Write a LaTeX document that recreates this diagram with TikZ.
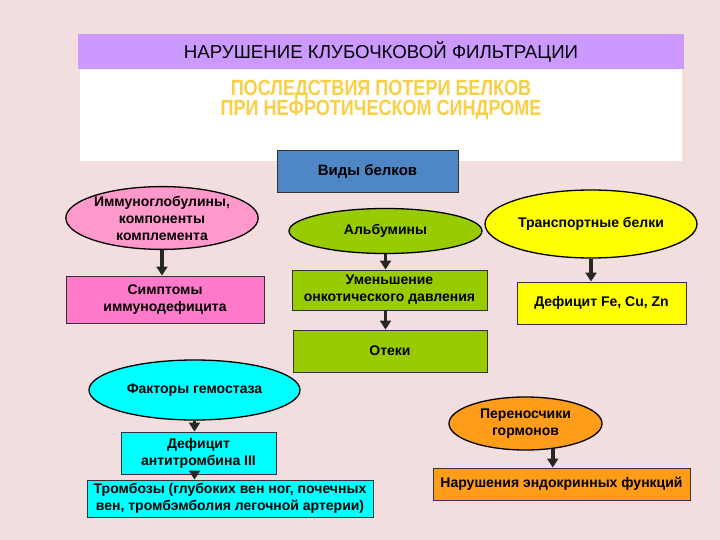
\documentclass[tikz,border=0pt]{standalone}
\usepackage{fontspec}
\setmainfont{Liberation Sans}
\usetikzlibrary{shapes.geometric,arrows.meta}
\definecolor{bg}{HTML}{F2DEDE}
\definecolor{hdr}{HTML}{CC99FF}
\definecolor{ttl}{HTML}{F8CF45}
\definecolor{blu}{HTML}{4F86C6}
\definecolor{pinkl}{HTML}{FF99CC}
\definecolor{pinkd}{HTML}{FF7ACB}
\definecolor{grn}{HTML}{99CC00}
\definecolor{yel}{HTML}{FFFF00}
\definecolor{cyn}{HTML}{00FFFF}
\definecolor{org}{HTML}{FF9C1A}
\tikzset{
  txt/.style={font=\fontsize{14}{17}\selectfont\bfseries, align=center, text=black},
  ell/.style={ellipse, draw=black, line width=1.3pt, inner sep=0pt, txt},
  boxn/.style={rectangle, draw=black!80, line width=0.9pt, inner sep=0pt, txt},
  arr/.style={-{Triangle[length=9pt,width=11pt]}, line width=3.6pt, draw=black!85},
}
\begin{document}
\begin{tikzpicture}[x=1pt,y=-1pt]
\fill[bg] (0,0) rectangle (720,540);
\useasboundingbox (0,0) rectangle (720,540);
% header and panel
\node[rectangle, fill=white, minimum width=602, minimum height=92, inner sep=0pt] (panel) at (381,115) {};
\node[rectangle, fill=hdr, minimum width=606, minimum height=35, inner sep=0pt, font=\fontsize{18.7}{20}\selectfont, text=black] (hdr) at (381,51.5) {НАРУШЕНИЕ КЛУБОЧКОВОЙ ФИЛЬТРАЦИИ};
\node[font=\fontsize{22}{20}\selectfont\bfseries, text=ttl, align=center, xscale=0.82, transform shape] (ttl) at (381,100) {ПОСЛЕДСТВИЯ ПОТЕРИ БЕЛКОВ\\ПРИ НЕФРОТИЧЕСКОМ СИНДРОМЕ};
% central
\node[boxn, fill=blu, minimum width=181, minimum height=42, font=\fontsize{15}{17}\selectfont\bfseries] (vid) at (367.5,171) {Виды белков};
% immunoglobulins
\node[ell, fill=pinkl, minimum width=164, minimum height=60] (imm) at (162,218) {Иммуноглобулины,\\компоненты\\комплемента};
\node[boxn, fill=pinkd, minimum width=198, minimum height=47] (sym) at (165,299.5) {Симптомы\\иммунодефицита};
% albumins
\node[ell, fill=grn, minimum width=193, minimum height=45] (alb) at (385.5,231) {Альбумины};
\node[boxn, fill=grn, minimum width=195, minimum height=40] (onk) at (389.5,290) {Уменьшение\\онкотического давления};
\node[boxn, fill=grn, minimum width=194, minimum height=42] (ote) at (390,351) {Отеки};
% transport
\node[ell, fill=yel, minimum width=212, minimum height=68] (trn) at (591,224) {Транспортные белки};
\node[boxn, fill=yel, minimum width=169, minimum height=42] (def) at (601.5,303) {Дефицит Fe, Cu, Zn};
% hemostasis
\node[ell, fill=cyn, minimum width=211, minimum height=60] (hem) at (194.5,390) {Факторы гемостаза};
\node[boxn, fill=cyn, minimum width=155, minimum height=42] (atr) at (198.5,453) {Дефицит\\антитромбина III};
\node[boxn, fill=cyn, minimum width=286, minimum height=37] (thr) at (230,498.5) {Тромбозы (глубоких вен ног, почечных\\вен, тромбэмболия легочной артерии)};
% hormones
\node[ell, fill=org, minimum width=153, minimum height=53] (hor) at (525.5,423.5) {Переносчики\\гормонов};
\node[boxn, fill=org, minimum width=257, minimum height=32] (end) at (561.5,484) {Нарушения эндокринных функций};
% arrows
\draw[arr] (imm.south) -- (imm.south |- sym.north);
\draw[arr] (alb.south) -- (alb.south |- onk.north);
\draw[arr] (onk.south -| alb.south) -- (alb.south |- ote.north);
\draw[arr] (trn.south) -- (trn.south |- def.north);
\draw[arr] (hem.south) -- (hem.south |- atr.north);
\draw[arr] (atr.south -| hem.south) -- (hem.south |- thr.north);
\draw[arr] (hor.-43) -- (hor.-43 |- end.north);
\end{tikzpicture}
\end{document}
